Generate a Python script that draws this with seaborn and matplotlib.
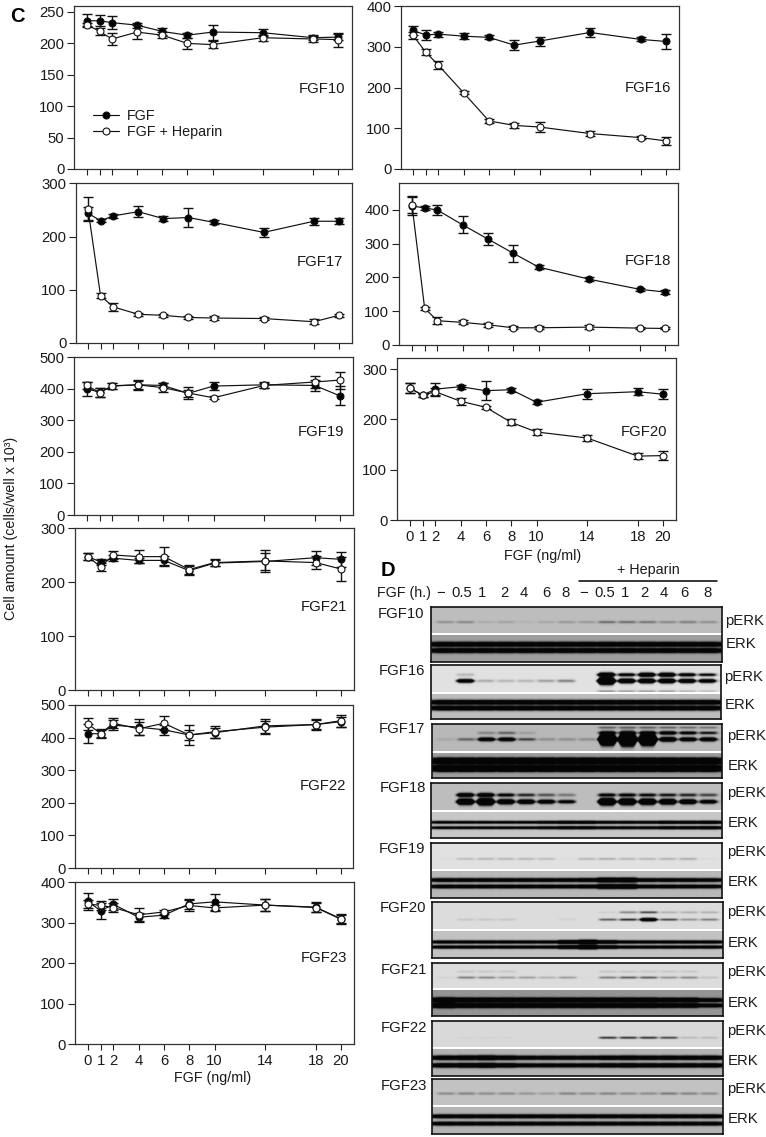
import numpy as np
import pandas as pd
import matplotlib
matplotlib.use("Agg")
import matplotlib.pyplot as plt
import seaborn as sns

W, H = 766, 1137
sns.set_style("ticks")
plt.rcParams['font.family'] = ['Liberation Sans', 'DejaVu Sans']
INK = '#1a1a1a'
FS = 10.7
FS2 = 10.3

# ---------- C: dose-response data ----------
doses = [0, 1, 2, 4, 6, 8, 10, 14, 18, 20]
dose_labels = ['0', '1', '2', '4', '6', '8', '10', '14', '18', '20']

fgf10_f = [236, 236, 233, 229, 219, 213, 218, 217, 209, 210]
fgf10_f_err = [10, 9, 10, 4, 5, 4, 12, 6, 4, 5]
fgf10_h = [230, 219, 207, 218, 213, 200, 198, 209, 207, 206]
fgf10_h_err = [3, 6, 10, 11, 5, 9, 6, 5, 5, 11]

fgf16_f = [340, 329, 331, 326, 323, 304, 314, 335, 318, 313]
fgf16_f_err = [12, 12, 6, 8, 5, 12, 11, 11, 5, 19]
fgf16_h = [328, 287, 255, 187, 118, 107, 103, 87, 77, 69]
fgf16_h_err = [8, 7, 10, 4, 5, 6, 12, 7, 4, 10]

fgf17_f = [244, 230, 239, 247, 234, 236, 227, 208, 229, 229]
fgf17_f_err = [12, 3, 4, 10, 4, 18, 4, 8, 7, 6]
fgf17_h = [252, 89, 68, 54, 52, 48, 47, 46, 40, 52]
fgf17_h_err = [23, 5, 7, 3, 3, 3, 3, 3, 5, 3]

fgf18_f = [412, 406, 400, 356, 314, 272, 231, 195, 165, 157]
fgf18_f_err = [28, 7, 15, 25, 18, 25, 5, 5, 5, 5]
fgf18_h = [414, 109, 72, 67, 60, 51, 51, 53, 50, 49]
fgf18_h_err = [24, 5, 10, 6, 6, 4, 5, 5, 3, 3]

fgf19_f = [400, 388, 408, 412, 410, 385, 408, 412, 410, 377]
fgf19_f_err = [22, 15, 10, 12, 7, 10, 12, 9, 18, 30]
fgf19_h = [410, 387, 409, 412, 403, 386, 371, 410, 421, 427]
fgf19_h_err = [12, 14, 10, 15, 14, 18, 5, 9, 18, 27]

fgf20_f = [262, 248, 260, 265, 257, 259, 234, 251, 255, 250]
fgf20_f_err = [10, 3, 12, 4, 19, 4, 4, 10, 7, 10]
fgf20_h = [262, 248, 255, 236, 224, 194, 175, 163, 127, 128]
fgf20_h_err = [10, 3, 8, 7, 3, 6, 6, 5, 6, 9]

fgf21_f = [247, 237, 244, 240, 240, 221, 235, 238, 245, 242]
fgf21_f_err = [7, 6, 6, 5, 9, 8, 6, 15, 13, 14]
fgf21_h = [247, 228, 250, 247, 247, 223, 236, 239, 236, 224]
fgf21_h_err = [6, 8, 7, 12, 17, 8, 6, 20, 12, 22]

fgf22_f = [412, 412, 438, 432, 424, 408, 415, 436, 440, 449]
fgf22_f_err = [30, 13, 15, 25, 15, 15, 15, 22, 15, 15]
fgf22_h = [442, 412, 444, 427, 444, 408, 418, 432, 440, 452]
fgf22_h_err = [18, 10, 15, 20, 22, 32, 18, 20, 18, 18]

fgf23_f = [352, 329, 345, 313, 318, 346, 351, 343, 338, 309]
fgf23_f_err = [22, 20, 14, 10, 7, 12, 20, 15, 12, 10]
fgf23_h = [346, 342, 337, 319, 326, 342, 336, 343, 337, 308]
fgf23_h_err = [10, 12, 10, 18, 5, 14, 8, 15, 12, 12]

# ---------- D: band strengths per lane ----------
lane_labels = ['\u2212', '0.5', '1', '2', '4', '6', '8', '\u2212', '0.5', '1', '2', '4', '6', '8']

b10_lo = [.25, .3, .1, .15, .06, .12, .2, .2, .45, .45, .4, .3, .35, .25]
b10_up = [0] * 14
b10_x = [0] * 14
b10_e = [2.2] * 14
b16_lo = [0, 1.6, .25, .2, .2, .3, .45, 0, 3.2, 2, 2, 2, 1.8, 1.6]
b16_up = [0, .2, 0, 0, 0, 0, 0, 0, 1.9, 1.3, 1.8, 1.8, 1.4, 1.1]
b16_x = [0, 0, 0, 0, 0, 0, 0, 0, .35, .3, .3, .3, .2, .15]
b16_e = [2.1] * 14
b17_lo = [.1, .5, 1.6, 1.6, .7, .25, .25, .25, 5, 5.5, 5, 2, 1.7, 1.7]
b17_up = [0, 0, .3, .5, .15, 0, 0, 0, 1.4, 1.4, 1.4, 1.5, 1.3, 1]
b17_x = [0, 0, 0, 0, 0, 0, 0, 0, .5, .5, .5, .5, .45, .4]
b17_e = [4] * 14
b18_lo = [0, 2.4, 2.8, 2, 1.8, 1.6, 1.3, 0, 2.8, 2.6, 2.4, 2.2, 1.9, 1.5]
b18_up = [0, 1.6, 1.6, 1.2, .9, .6, .4, 0, 1.2, 1.2, 1.1, 1, .9, .7]
b18_x = [0] * 14
b18_e = [1.4, 1.4, 1.4, 1.4, 1.4, 1.6, 1.8, 1.8, 1.6, 1.6, 1.6, 1.8, 1.8, 1.9]
b19_lo = [.02, .18, .2, .2, .2, .18, .02, .2, .25, .2, .2, .22, .25, .03]
b19_up = [0] * 14
b19_x = [0] * 14
b19_e = [1.8, 1.8, 1.8, 1.8, 1.8, 1.8, 1.8, 1.9, 2.8, 2.8, 1.8, 1.8, 1.8, 1.7]
b20_lo = [0, .1, .1, .1, 0, 0, .05, 0, .6, .85, 1.8, .7, .35, .45]
b20_up = [0, 0, 0, 0, 0, 0, 0, 0, .05, .4, .7, .2, .2, .2]
b20_x = [0] * 14
b20_e = [1.8, 1.8, 1.8, 1.8, 1.8, 1.8, 2.6, 3.4, 2.3, 1.8, 1.8, 1.8, 1.8, 1.8]
b21_lo = [.05, .45, .4, .3, .3, .2, .3, .02, .45, .6, .6, .35, .4, .12]
b21_up = [0, .1, .1, .1, 0, 0, 0, 0, .1, .1, .1, .1, .1, 0]
b21_e = [3.4, 3, 3, 3, 3, 3, 3, 3, 3, 3, 3, 2.7, 2.7, 1.9]
b21_x = [0] * 14
b22_lo = [0, .03, .03, .02, 0, 0, 0, 0, .8, .8, .8, .7, .15, .15]
b22_up = [0] * 14
b22_x = [0] * 14
b22_e = [2.1, 2.3, 2.5, 2.1, 1.8, 1.8, 1.8, 1.8, 2, 2.1, 2, 2, 2, 2]
b23_lo = [.3, .35, .3, .3, .25, .2, .35, .3, .35, .3, .3, .4, .35, .3]
b23_up = [0] * 14
b23_x = [0] * 14
b23_e = [1.9] * 14

fig = plt.figure(figsize=(W / 100, H / 100), dpi=100, facecolor='white')


def ax_at(l, r, t, b):
    return fig.add_axes([l / W, 1 - b / H, (r - l) / W, (b - t) / H])


def ftext(x, y, s, **kw):
    kw.setdefault('fontsize', FS)
    kw.setdefault('va', 'center')
    kw.setdefault('color', INK)
    return fig.text(x / W, 1 - y / H, s, **kw)


def curve_panel(box, x0, x20, ymax, yticks, name, name_xy, f, fe, h, he, xlabels=False):
    l, r, t, b = box
    ax = ax_at(l, r, t, b)
    k = (x20 - x0) / 20
    for vals, errs, fc, lab, z in ((f, fe, 'black', 'FGF', 3), (h, he, 'white', 'FGF + Heparin', 5)):
        ax.errorbar(doses, vals, yerr=errs, fmt='none', ecolor='#111111', elinewidth=1.0,
                    capsize=3.6, capthick=1.0, zorder=z - 1)
        sns.lineplot(x=doses, y=vals, ax=ax, color='#111111', lw=0.85, marker='o', markersize=5,
                     markerfacecolor=fc, markeredgecolor='#111111', markeredgewidth=0.8,
                     estimator=None, errorbar=None, label=lab, zorder=z, legend=False)
    ax.set_xlim((l - x0) / k, (r - x0) / k)
    ax.set_ylim(0, ymax)
    ax.set_xticks(doses)
    ax.set_yticks(yticks)
    ax.set_xticklabels(dose_labels if xlabels else [])
    ax.set_xlabel('')
    ax.tick_params(axis='x', length=4.5, width=0.8, pad=3, labelsize=FS, color='#222222', labelcolor=INK)
    ax.tick_params(axis='y', length=5, width=0.8, pad=2, labelsize=FS, color='#222222', labelcolor=INK)
    for s in ax.spines.values():
        s.set_visible(True)
        s.set_linewidth(0.9)
        s.set_color('#333333')
    ftext(name_xy[0], name_xy[1], name, ha='right')
    return ax


a10 = curve_panel((74, 352, 6, 169), 87, 338, 259.5, [0, 50, 100, 150, 200, 250], 'FGF10', (345, 89),
                  fgf10_f, fgf10_f_err, fgf10_h, fgf10_h_err)
curve_panel((76, 352, 183.5, 343), 88, 339, 300, [0, 100, 200, 300], 'FGF17', (343, 262),
            fgf17_f, fgf17_f_err, fgf17_h, fgf17_h_err)
curve_panel((74, 353, 357, 515), 87, 340, 500, [0, 100, 200, 300, 400, 500], 'FGF19', (344, 432),
            fgf19_f, fgf19_f_err, fgf19_h, fgf19_h_err)
curve_panel((75, 354, 528, 690), 88, 341, 300, [0, 100, 200, 300], 'FGF21', (347, 607),
            fgf21_f, fgf21_f_err, fgf21_h, fgf21_h_err)
curve_panel((75, 353, 705, 868), 88, 341, 500, [0, 100, 200, 300, 400, 500], 'FGF22', (346, 786),
            fgf22_f, fgf22_f_err, fgf22_h, fgf22_h_err)
curve_panel((75, 354, 882, 1044), 88, 341, 400, [0, 100, 200, 300, 400], 'FGF23', (347, 958),
            fgf23_f, fgf23_f_err, fgf23_h, fgf23_h_err, xlabels=True)
curve_panel((401, 679, 6, 169), 413, 666, 400, [0, 100, 200, 300, 400], 'FGF16', (671, 88),
            fgf16_f, fgf16_f_err, fgf16_h, fgf16_h_err)
curve_panel((399, 678, 183, 345), 412, 665, 480, [0, 100, 200, 300, 400], 'FGF18', (671, 261),
            fgf18_f, fgf18_f_err, fgf18_h, fgf18_h_err)
curve_panel((397, 676, 358, 520), 410, 663, 322, [0, 100, 200, 300], 'FGF20', (667, 432),
            fgf20_f, fgf20_f_err, fgf20_h, fgf20_h_err, xlabels=True)

lines = [c for c in a10.get_lines() if c.get_label() in ('FGF', 'FGF + Heparin')]
fig.legend(lines, ['FGF', 'FGF + Heparin'], frameon=False, loc='upper left',
           bbox_to_anchor=(93 / W, 1 - 109 / H), borderaxespad=0, borderpad=0,
           handlelength=1.85, handletextpad=0.55, labelspacing=0.15, fontsize=FS2, labelcolor=INK)

ftext(213, 1078, 'FGF (ng/ml)', ha='center', fontsize=FS2)
ftext(543, 556, 'FGF (ng/ml)', ha='center', fontsize=FS2)
ftext(11, 528, 'Cell amount (cells/well x 10\u00b3)', rotation=90, ha='center', fontsize=FS2)
ftext(10, 16, 'C', fontsize=14.5, fontweight='bold', color='black')
ftext(381, 571, 'D', fontsize=14.5, fontweight='bold', color='black')

# ---------- D: blots ----------
ftext(648, 570, '+ Heparin', ha='center', fontsize=FS2)
fig.add_artist(plt.Line2D([579 / W, 717 / W], [1 - 581 / H] * 2, color='black', lw=1.1))
ftext(377, 593, 'FGF (h.)', fontsize=FS2)
lane_label_x = [441, 462, 482, 504, 524, 546, 566, 584, 605, 625, 644, 664, 684, 707]
for lx, lab in zip(lane_label_x, lane_labels):
    ftext(lx, 593, lab, ha='center')


def smooth_x(a, n):
    pad = np.pad(a, n, mode='edge')
    return np.convolve(pad, np.ones(2 * n + 1) / (2 * n + 1), mode='same')[n:-n]


def blot_matrix(w, h, div, lo, up, extra, erk, pos, sig, bg):
    s = 2
    xs = (np.arange(int(w * s)) + .5) / s
    ys = (np.arange(int(h * s)) + .5) / s
    pitch = (w - 28) / 13
    idx = np.clip(np.round((xs - 14) / pitch).astype(int), 0, 13)
    dist = np.clip(np.abs(xs - (14 + idx * pitch)) / (pitch / 2), 0, 1)
    lo, up, extra, erk = map(np.asarray, (lo, up, extra, erk))
    p_edge = np.exp(-(dist / .9) ** 8)
    e_edge = 1 - .16 * dist ** 8
    pu, pl, px_, eu, el = pos
    dark = np.zeros((len(ys), len(xs)))
    gray_bg = np.where(ys[:, None] < div, bg[0], bg[1]) * np.ones_like(dark)

    def add(center, strength, sigma, grow):
        nonlocal dark
        st = smooth_x(strength, 3)
        sg = sigma * (1 + grow * np.maximum(0, st - 1))
        g = np.exp(-((ys[:, None] - center) ** 2) / (2 * sg[None, :] ** 2))
        dark = 1 - (1 - dark) * (1 - np.minimum(1, st[None, :] * g))

    add(div * pl, lo[idx] * p_edge, sig[0], .6)
    add(div * pu, up[idx] * p_edge, sig[0], .6)
    add(div * px_, extra[idx] * p_edge, sig[0] * .8, .6)
    add(div + (h - div) * eu, erk[idx] * e_edge, sig[1], .12)
    add(div + (h - div) * el, erk[idx] * e_edge, sig[1], .12)
    img = gray_bg * (1 - dark) + .02 * dark
    kern = np.array([1, 2, 1]) / 4
    img = np.apply_along_axis(lambda c: np.convolve(np.pad(c, 1, mode='edge'), kern, mode='valid'), 0, img)
    img = np.apply_along_axis(lambda c: np.convolve(np.pad(c, 1, mode='edge'), kern, mode='valid'), 1, img)
    img[np.abs(ys - div) < 1.0] = 1.0
    return img


blots = [
    ('FGF10', (431, 722, 607, 662, 634), (424, 614), 725, (621, 644), b10_lo, b10_up, b10_x, b10_e,
     (.35, .55, .9, .36, .58), (.9, 1.4), (.74, .62)),
    ('FGF16', (431, 721, 665, 719, 693), (425, 671), 724, (677, 705), b16_lo, b16_up, b16_x, b16_e,
     (.34, .56, .93, .35, .57), (1.0, 1.4), (.88, .74)),
    ('FGF17', (432, 722, 724, 778, 752), (425, 729), 727, (736, 766), b17_lo, b17_up, b17_x, b17_e,
     (.31, .54, .12, .34, .62), (1.0, 1.4), (.72, .62)),
    ('FGF18', (431, 722, 783, 838, 811), (426, 788), 727, (793, 823), b18_lo, b18_up, b18_x, b18_e,
     (.42, .66, .9, .41, .61), (1.1, 1.0), (.74, .78)),
    ('FGF19', (431, 722, 843, 898, 870), (425, 849), 727, (852, 882), b19_lo, b19_up, b19_x, b19_e,
     (.35, .58, .9, .35, .58), (.8, 1.2), (.88, .72)),
    ('FGF20', (432, 723, 902, 958, 930), (426, 908), 727, (912, 943), b20_lo, b20_up, b20_x, b20_e,
     (.36, .62, .9, .42, .60), (.8, 1.0), (.86, .76)),
    ('FGF21', (432, 723, 963, 1016, 989), (427, 970), 727, (972, 1003), b21_lo, b21_up, b21_x, b21_e,
     (.32, .55, .9, .40, .60), (.8, 1.2), (.86, .58)),
    ('FGF22', (432, 723, 1021, 1076, 1048), (427, 1028), 727, (1031, 1061), b22_lo, b22_up, b22_x, b22_e,
     (.35, .61, .9, .34, .61), (.8, 1.3), (.85, .70)),
    ('FGF23', (432, 723, 1079, 1134, 1106), (427, 1086), 727, (1089, 1119), b23_lo, b23_up, b23_x, b23_e,
     (.35, .53, .9, .36, .62), (.9, 1.2), (.76, .70)),
]

for name, (l, r, t, b, d), nxy, ex, (py, ey), lo, up, extra, erk, pos, sig, bg in blots:
    ax = ax_at(l, r, t, b)
    img = blot_matrix(r - l, b - t, d - t, lo, up, extra, erk, pos, sig, bg)
    sns.heatmap(pd.DataFrame(img), ax=ax, cmap='gray', vmin=0, vmax=1, cbar=False,
                xticklabels=False, yticklabels=False)
    ax.tick_params(length=0)
    for s in ax.spines.values():
        s.set_visible(True)
        s.set_linewidth(1.2)
        s.set_color('#111111')
    ftext(nxy[0], nxy[1], name, ha='right')
    ftext(ex, py, 'pERK')
    ftext(ex + 1, ey, 'ERK')

fig.savefig('out.png', dpi=100, facecolor='white')
